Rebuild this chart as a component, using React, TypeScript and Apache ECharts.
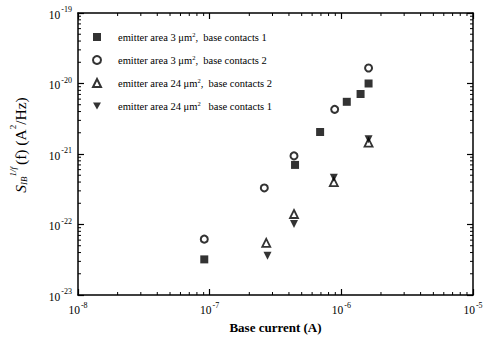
import { useEffect, useRef } from 'react';
import * as echarts from 'echarts';

const seriesNames = [
  'emitter area 3 μm², base contacts 1',
  'emitter area 3 μm², base contacts 2',
  'emitter area 24 μm², base contacts 2',
  'emitter area 24 μm², base contacts 1',
];
const legendRich = [
  '{t|emitter area 3 μm}{s|2}{t|,  base contacts 1}',
  '{t|emitter area 3 μm}{s|2}{t|,  base contacts 2}',
  '{t|emitter area 24 μm}{s|2}{t|,  base contacts 2}',
  '{t|emitter area 24 μm}{s|2}{t|   base contacts 1}',
];

// emitter area 3 um^2, base contacts 1 (filled squares)
const a3c1X = [9.1e-8, 4.45e-7, 6.9e-7, 1.1e-6, 1.4e-6, 1.61e-6];
const a3c1Y = [3.2e-23, 7.0e-22, 2.05e-21, 5.5e-21, 7.1e-21, 1.0e-20];
// emitter area 3 um^2, base contacts 2 (open circles)
const a3c2X = [9.1e-8, 2.6e-7, 4.37e-7, 8.9e-7, 1.61e-6];
const a3c2Y = [6.2e-23, 3.3e-22, 9.4e-22, 4.3e-21, 1.66e-20];
// emitter area 24 um^2, base contacts 2 (open triangles)
const a24c2X = [2.69e-7, 4.37e-7, 8.77e-7, 1.61e-6];
const a24c2Y = [5.5e-23, 1.41e-22, 4.0e-22, 1.45e-21];
// emitter area 24 um^2, base contacts 1 (filled down triangles)
const a24c1X = [2.75e-7, 4.37e-7, 8.77e-7, 1.61e-6];
const a24c1Y = [3.6e-23, 1.02e-22, 4.6e-22, 1.62e-21];

// axis range exponents (decades)
const xExpMin = -8;
const xExpMax = -5;
const yExpMin = -23;
const yExpMax = -19;
const minorMultipliers = [2, 3, 4, 5, 6, 7, 8, 9];

// ECharts' log scale rounds tiny values to zero, so values are expressed
// in units of 10^xExpMin and 10^yExpMin on the axes; labels restore the exponent.
const xUnit = Math.pow(10, xExpMin);
const yUnit = Math.pow(10, yExpMin);

const FONT = '"Liberation Serif", "DejaVu Serif", serif';
const DOWN_TRI = 'path://M0,0L10,0L5,9Z';

const zip = (xs: number[], ys: number[]) => xs.map((x, i) => [x / xUnit, ys[i] / yUnit]);

export default function App() {
  const ref = useRef<HTMLDivElement>(null);
  useEffect(() => {
    if (!ref.current) return;
    const chart = echarts.init(ref.current, null, { renderer: 'svg' });

    const xMin = 1;
    const xMax = Math.pow(10, xExpMax - xExpMin);
    const yMin = 1;
    const yMax = Math.pow(10, yExpMax - yExpMin);

    const xMinor: number[][] = [];
    for (let d = 0; d < xExpMax - xExpMin; d++)
      minorMultipliers.forEach((m) => xMinor.push([m * Math.pow(10, d), yMin]));
    const yMinor: number[][] = [];
    for (let d = 0; d < yExpMax - yExpMin; d++)
      minorMultipliers.forEach((m) => yMinor.push([xMin, m * Math.pow(10, d)]));

    const tickLabel = (offset: number) => (v: number) => {
      const e = Math.round(Math.log10(v)) + offset;
      return `{b|10}{s|${e}}`;
    };
    const labelRich = {
      b: { fontFamily: FONT, fontSize: 11.5, color: '#000', lineHeight: 15, verticalAlign: 'bottom' },
      s: { fontFamily: FONT, fontSize: 8, color: '#000', lineHeight: 15, verticalAlign: 'top', padding: [0, 0, 6, 1] },
    };

    const axisCommon = {
      type: 'log' as const,
      logBase: 10,
      axisLine: { lineStyle: { color: '#000', width: 1.5 } },
      axisTick: { inside: true, length: 6, lineStyle: { color: '#000', width: 1.2 } },
      splitLine: { show: false },
      minorTick: { show: false },
    };

    const minorRender = (isX: boolean) => (params: any, api: any) => {
      const v = isX ? api.value(0) : api.value(1);
      const len = 3;
      if (isX) {
        const b = api.coord([v, yMin]);
        const t = api.coord([v, yMax]);
        return {
          type: 'group',
          children: [
            { type: 'line', shape: { x1: b[0], y1: b[1], x2: b[0], y2: b[1] - len }, style: { stroke: '#000', lineWidth: 1 } },
            { type: 'line', shape: { x1: t[0], y1: t[1], x2: t[0], y2: t[1] + len }, style: { stroke: '#000', lineWidth: 1 } },
          ],
        };
      }
      const l = api.coord([xMin, v]);
      const r = api.coord([xMax, v]);
      return {
        type: 'group',
        children: [
          { type: 'line', shape: { x1: l[0], y1: l[1], x2: l[0] + len, y2: l[1] }, style: { stroke: '#000', lineWidth: 1 } },
          { type: 'line', shape: { x1: r[0], y1: r[1], x2: r[0] - len, y2: r[1] }, style: { stroke: '#000', lineWidth: 1 } },
        ],
      };
    };

    chart.setOption({
      animation: false,
      backgroundColor: '#fff',
      grid: { left: 76, right: 13, top: 13, bottom: 50, containLabel: false },
      legend: {
        orient: 'vertical',
        left: 87,
        top: 26,
        itemWidth: 8,
        itemHeight: 8,
        itemGap: 11,
        data: [
          { name: seriesNames[0], icon: 'rect' },
          { name: seriesNames[1], icon: 'circle' },
          { name: seriesNames[2], icon: 'triangle' },
          { name: seriesNames[3], icon: DOWN_TRI },
        ],
        formatter: (name: string) => legendRich[seriesNames.indexOf(name)],
        textStyle: {
          padding: [0, 0, 0, 12],
          rich: {
            t: { fontFamily: FONT, fontSize: 10.5, color: '#000', lineHeight: 12, verticalAlign: 'bottom' },
            s: { fontFamily: FONT, fontSize: 6.5, color: '#000', lineHeight: 12, verticalAlign: 'top', padding: [0, 0, 5, 0] },
          },
        },
      },
      xAxis: [
        {
          ...axisCommon,
          min: xMin,
          max: xMax,
          position: 'bottom',
          name: 'Base current (A)',
          nameLocation: 'middle',
          nameGap: 23,
          nameTextStyle: { fontFamily: FONT, fontSize: 13, fontWeight: 'bold', color: '#000' },
          axisLabel: { formatter: tickLabel(xExpMin), rich: labelRich, margin: 6 },
        },
        {
          ...axisCommon,
          min: xMin,
          max: xMax,
          position: 'top',
          axisLabel: { show: false },
        },
      ],
      yAxis: [
        {
          ...axisCommon,
          min: yMin,
          max: yMax,
          position: 'left',
          name: '{S|S}{sub|IB}{sup|1/f}{n|(f) (A}{sup2|2}{n|/Hz)}',
          nameLocation: 'middle',
          nameGap: 50,
          nameRotate: 90,
          nameTextStyle: {
            color: '#000',
            padding: [0, 0, 0, 18],
            rich: {
              S: { fontFamily: FONT, fontSize: 15.5, fontStyle: 'italic', color: '#000', lineHeight: 20, verticalAlign: 'bottom' },
              sub: { fontFamily: FONT, fontSize: 9, fontStyle: 'italic', color: '#000', lineHeight: 20, verticalAlign: 'bottom' },
              sup: { fontFamily: FONT, fontSize: 9, fontStyle: 'italic', color: '#000', lineHeight: 20, verticalAlign: 'top', padding: [0, 2, 0, 0] },
              n: { fontFamily: FONT, fontSize: 15.5, color: '#000', lineHeight: 20, verticalAlign: 'bottom' },
              sup2: { fontFamily: FONT, fontSize: 9, color: '#000', lineHeight: 20, verticalAlign: 'top' },
            },
          },
          axisLabel: { formatter: tickLabel(yExpMin), rich: labelRich, margin: 6 },
        },
        {
          ...axisCommon,
          min: yMin,
          max: yMax,
          position: 'right',
          axisLabel: { show: false },
        },
      ],
      series: [
        {
          name: seriesNames[0],
          type: 'scatter',
          symbol: 'rect',
          symbolSize: 8,
          itemStyle: { color: '#000' },
          data: zip(a3c1X, a3c1Y),
        },
        {
          name: seriesNames[1],
          type: 'scatter',
          symbol: 'circle',
          symbolSize: 7,
          itemStyle: { color: '#fff', borderColor: '#000', borderWidth: 2 },
          data: zip(a3c2X, a3c2Y),
        },
        {
          name: seriesNames[2],
          type: 'scatter',
          symbol: 'triangle',
          symbolSize: 8,
          itemStyle: { color: '#fff', borderColor: '#000', borderWidth: 1.8 },
          data: zip(a24c2X, a24c2Y),
        },
        {
          name: seriesNames[3],
          type: 'scatter',
          symbol: DOWN_TRI,
          symbolSize: 8,
          itemStyle: { color: '#000' },
          data: zip(a24c1X, a24c1Y),
        },
        {
          type: 'custom',
          silent: true,
          clip: false,
          renderItem: minorRender(true),
          data: xMinor,
          z: 1,
        },
        {
          type: 'custom',
          silent: true,
          clip: false,
          renderItem: minorRender(false),
          data: yMinor,
          z: 1,
        },
      ],
    });
    return () => chart.dispose();
  }, []);
  return <div ref={ref} style={{ width: 486, height: 345, position: 'absolute', left: 0, top: 0, background: '#fff' }} />;
}
